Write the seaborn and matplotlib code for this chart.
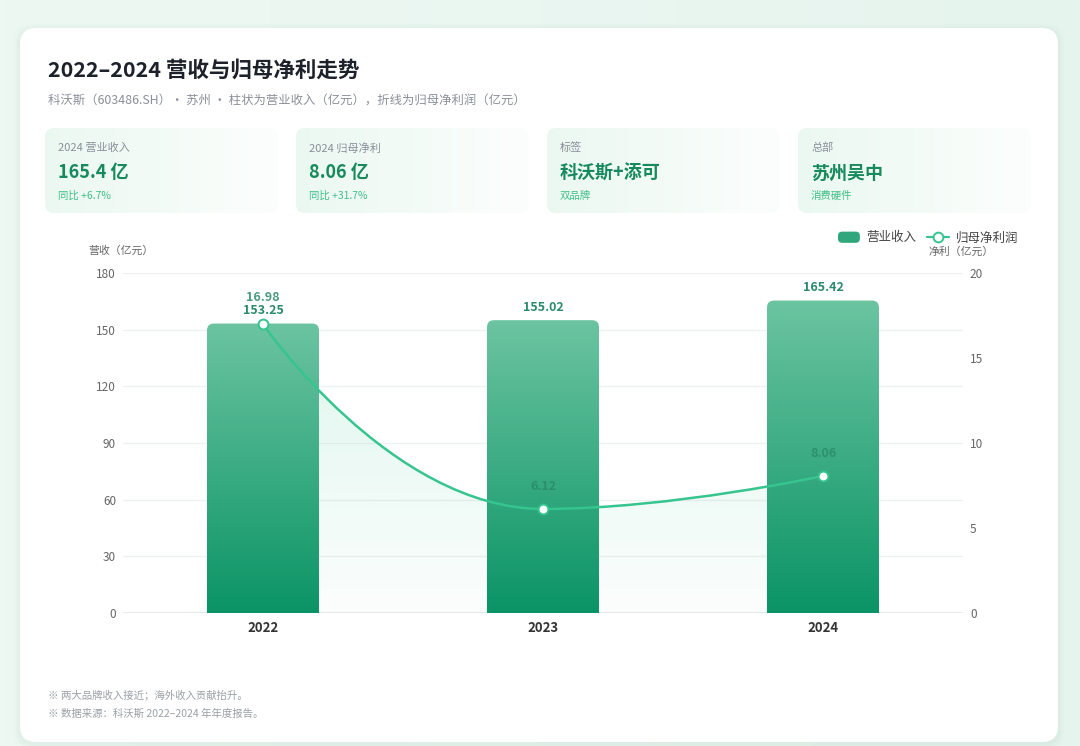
import numpy as np
import pandas as pd
import matplotlib
matplotlib.use("Agg")
import matplotlib.pyplot as plt
import seaborn as sns
from matplotlib.patches import FancyBboxPatch, PathPatch, Patch
from matplotlib.path import Path
from matplotlib.lines import Line2D
from matplotlib.legend_handler import HandlerPatch
from matplotlib.colors import to_rgb

# ---------------- data ----------------
years = ["2022", "2023", "2024"]
revenue = [153.25, 155.02, 165.42]
net_profit = [16.98, 6.12, 8.06]
rev_ticks = [0, 30, 60, 90, 120, 150, 180]
profit_ticks = [0, 5, 10, 15, 20]
kpi_labels = ["2024 营业收入", "2024 归母净利", "标签", "总部"]
kpi_values = ["165.4 亿", "8.06 亿", "科沃斯+添可", "苏州吴中"]
kpi_notes = ["同比 +6.7%", "同比 +31.7%", "双品牌", "消费硬件"]
title = "2022–2024 营收与归母净利走势"
subtitle = "科沃斯（603486.SH）· 苏州 · 柱状为营业收入（亿元），折线为归母净利润（亿元）"
footnotes = ["※ 两大品牌收入接近；海外收入贡献抬升。", "※ 数据来源：科沃斯 2022–2024 年年度报告。"]
legend_labels = ["营业收入", "归母净利润"]
left_axis_title = "营收（亿元）"
right_axis_title = "净利（亿元）"

# ---------------- style ----------------
sns.set_theme(style="white")
plt.rcParams['font.family'] = ['Noto Sans CJK SC', 'DejaVu Sans']

LINE_C = '#36c48f'
BAR_TOP = '#6cc4a1'
BAR_BOT = '#0b9466'

W, H = 1080, 746
fig = plt.figure(figsize=(W / 100, H / 100), dpi=100)
fig.patch.set_facecolor('#e8f5ef')

# background axes in pixel coordinates
bg = fig.add_axes([0, 0, 1, 1], zorder=0)
bg.axis('off')


def hgrad(c0, c1, n=256):
    a, b = np.array(to_rgb(c0)), np.array(to_rgb(c1))
    t = np.linspace(0, 1, n)[None, :, None]
    return a + (b - a) * t


def vgrad_rgba(c_top, c_bot, a_top=1.0, a_bot=1.0, n=256):
    a, b = np.array(to_rgb(c_top)), np.array(to_rgb(c_bot))
    t = np.linspace(0, 1, n)[:, None, None]
    rgb = a + (b - a) * t
    alpha = a_top + (a_bot - a_top) * t
    return np.concatenate([rgb, alpha], axis=2)


# page background gradient
bg.imshow(hgrad('#eef8f3', '#e6f4ee'), extent=[0, W, H, 0], aspect='auto', zorder=0)

# card shadow + white card
for k, a in [(6, 0.025), (4, 0.03), (2, 0.04)]:
    bg.add_patch(FancyBboxPatch((20 - k, 28 - k + 2), 1038 + 2 * k, 714 + 2 * k,
                                boxstyle="round,pad=0,rounding_size=18",
                                facecolor='#6aa88c', edgecolor='none', alpha=a, zorder=1))
bg.add_patch(FancyBboxPatch((20, 28), 1038, 714, boxstyle="round,pad=0,rounding_size=16",
                            facecolor='white', edgecolor='none', zorder=2))

# title & subtitle
bg.text(48, 70, title, fontsize=15.5, fontweight='bold', color='#1d2129', va='center', ha='left', zorder=5)
bg.text(48, 100, subtitle, fontsize=8.9, color='#8a8f99', va='center', ha='left', zorder=5)

# KPI cards
card_x0, card_step, card_w, card_y, card_h = 45, 251, 233, 128, 85
for i in range(len(kpi_labels)):
    cx = card_x0 + i * card_step
    box = FancyBboxPatch((cx, card_y), card_w, card_h, boxstyle="round,pad=0,rounding_size=9",
                         facecolor='none', edgecolor='none', zorder=3)
    bg.add_patch(box)
    im = bg.imshow(hgrad('#ebf8f1', '#fcfefd'), extent=[cx, cx + card_w, card_y + card_h, card_y],
                   aspect='auto', zorder=3)
    im.set_clip_path(box)
    bg.text(cx + 13, card_y + 20, kpi_labels[i], fontsize=8, color='#8a8f99', va='center', ha='left', zorder=5)
    bg.text(cx + 13, card_y + 45, kpi_values[i], fontsize=13, fontweight='bold', color='#178a5d',
            va='center', ha='left', zorder=5)
    bg.text(cx + 13, card_y + 68, kpi_notes[i], fontsize=7.5, color='#3fbf88', va='center', ha='left', zorder=5)

# footnotes
for j, t in enumerate(footnotes):
    bg.text(48, 695 + j * 19, t, fontsize=7.5, color='#9aa0a6', va='center', ha='left', zorder=5)

# axis titles
bg.text(88, 251, left_axis_title, fontsize=7.8, color='#666666', va='center', ha='left', zorder=5)
bg.text(928, 252, right_axis_title, fontsize=7.8, color='#666666', va='center', ha='left', zorder=5)

bg.set_xlim(0, W)
bg.set_ylim(H, 0)

# ---------------- main chart ----------------
L, R, T, B = 123, 963, 273, 613
ax = fig.add_axes([L / W, 1 - B / H, (R - L) / W, (B - T) / H], zorder=2)
ax.set_facecolor('none')

df = pd.DataFrame({'year': years, 'revenue': revenue})
sns.barplot(data=df, x='year', y='revenue', ax=ax, width=0.4, color=BAR_BOT, saturation=1, zorder=3)

ymax_l, ymax_r = rev_ticks[-1], profit_ticks[-1]
ax.set_xlim(-0.5, len(years) - 0.5)
ax.set_ylim(0, ymax_l)

ax2 = ax.twinx()
ax2.set_ylim(0, ymax_r)

# gradient, round-topped bars
px_x = (len(years)) / (R - L)          # data units per pixel (x)
px_y = ymax_l / (B - T)                # data units per pixel (y)
asp = px_y / px_x
rad = 7 * px_x
bar_grad = vgrad_rgba(BAR_TOP, BAR_BOT)
for p in ax.patches:
    x0, w, h = p.get_x(), p.get_width(), p.get_height()
    p.set_facecolor('none')
    p.set_edgecolor('none')
    clip = FancyBboxPatch((x0, -rad * asp), w, h + rad * asp,
                          boxstyle=f"round,pad=0,rounding_size={rad}", mutation_aspect=asp,
                          facecolor='none', edgecolor='none', transform=ax.transData, zorder=3)
    ax.add_patch(clip)
    im = ax.imshow(bar_grad, extent=[x0, x0 + w, 0, h], aspect='auto', zorder=3)
    im.set_clip_path(clip)

# value labels on bars
for i, v in enumerate(revenue):
    ax.annotate(f"{v:.2f}", (i, v), xytext=(0, 9.4), textcoords='offset points', ha='center', va='center',
                fontsize=9, fontweight='bold', color='#2b8a69', zorder=6)


# smooth line (ECharts-like monotone-clamped bezier through the data points)
def smooth_path(xs, ys, sx, sy, smooth=0.5):
    n = len(xs)
    cps = []
    for i in range(n):
        x, y = xs[i], ys[i]
        if i == 0 or i == n - 1:
            cps.append(((x, y), (x, y)))
            continue
        px_, py_ = xs[i - 1], ys[i - 1]
        nx_, ny_ = xs[i + 1], ys[i + 1]
        vx, vy = nx_ - px_, ny_ - py_
        d0 = np.hypot((x - px_) * sx, (y - py_) * sy)
        d1 = np.hypot((nx_ - x) * sx, (ny_ - y) * sy)
        r0 = d0 / (d0 + d1)
        c1x, c1y = x + vx * smooth * (1 - r0), y + vy * smooth * (1 - r0)
        c1x = min(max(c1x, min(nx_, x)), max(nx_, x))
        c1y = min(max(c1y, min(ny_, y)), max(ny_, y))
        ux, uy = c1x - x, c1y - y
        c0x, c0y = x - ux * d0 / d1, y - uy * d0 / d1
        c0x = min(max(c0x, min(px_, x)), max(px_, x))
        c0y = min(max(c0y, min(py_, y)), max(py_, y))
        ux, uy = x - c0x, y - c0y
        c1x, c1y = x + ux * d1 / d0, y + uy * d1 / d0
        cps.append(((c0x, c0y), (c1x, c1y)))
    verts = [(xs[0], ys[0])]
    codes = [Path.MOVETO]
    for i in range(1, n):
        verts += [cps[i - 1][1], cps[i][0], (xs[i], ys[i])]
        codes += [Path.CURVE4] * 3
    return verts, codes


xs = list(range(len(years)))
verts, codes = smooth_path(xs, net_profit, (R - L) / len(years), (B - T) / ymax_r)
line_path = Path(verts, codes)

# area under the line (drawn below the bars, on ax using ax2's scale)
area_path = Path(verts + [(xs[-1], 0), (xs[0], 0), (xs[0], net_profit[0])],
                 codes + [Path.LINETO, Path.LINETO, Path.CLOSEPOLY])
area_clip = PathPatch(area_path, transform=ax2.transData, facecolor='none', edgecolor='none', zorder=1)
ax.add_patch(area_clip)
area_img = ax.imshow(vgrad_rgba(LINE_C, LINE_C, 0.16, 0.02), aspect='auto', zorder=1,
                     extent=[xs[0], xs[-1], 0, max(net_profit) * ymax_l / ymax_r])
area_img.set_clip_path(area_clip)

ax2.add_patch(PathPatch(line_path, facecolor='none', edgecolor=LINE_C, lw=1.8, zorder=4))
sns.scatterplot(x=xs, y=net_profit, ax=ax2, s=50, color='white', edgecolor=LINE_C, linewidth=1.4, zorder=5)

line_label_offsets = [19.5, 16.5, 16.5]
for i, v in enumerate(net_profit):
    ax2.annotate(f"{v:.2f}", (i, v), xytext=(0, line_label_offsets[i]), textcoords='offset points',
                 ha='center', va='center', fontsize=9, fontweight='bold', color='#2b8a69', alpha=0.85, zorder=6)

# axes styling
ax.set_xlim(-0.5, len(years) - 0.5)
ax.set_ylim(0, ymax_l)
ax2.set_ylim(0, ymax_r)
ax.set_yticks(rev_ticks)
ax.set_yticklabels([str(t) for t in rev_ticks])
ax2.set_yticks(profit_ticks)
ax2.set_yticklabels([str(t) for t in profit_ticks])
ax.set_xlabel('')
ax.set_ylabel('')
ax2.set_xlabel('')
ax2.set_ylabel('')
ax.tick_params(axis='y', length=0, pad=5, labelsize=8.5, labelcolor='#666666')
ax.tick_params(axis='x', length=0, pad=5.5, labelsize=9.5, labelcolor='#333333')
for t in ax.get_xticklabels():
    t.set_fontweight('bold')
ax2.tick_params(axis='y', length=0, pad=5, labelsize=8.5, labelcolor='#666666')
ax.grid(axis='y', color='#eef0f2', lw=1)
ax.grid(axis='x', visible=False)
ax2.grid(False)
ax.set_axisbelow(True)
for a in (ax, ax2):
    for s in a.spines.values():
        s.set_visible(False)
ax.axhline(0, color='#e2e6e8', lw=1.2, zorder=2.5)

# legend
handles = [Patch(facecolor='#2fa67b', edgecolor='none'),
           Line2D([], [], color=LINE_C, lw=1.6, marker='o', markersize=7, markerfacecolor='white',
                  markeredgecolor=LINE_C, markeredgewidth=1.4)]
round_handler = HandlerPatch(patch_func=lambda legend, orig_handle, xdescent, ydescent, width, height, fontsize:
                             FancyBboxPatch((-xdescent, -ydescent), width, height,
                                            boxstyle="round,pad=0,rounding_size=3"))
leg = fig.legend(handles, legend_labels, loc='center right', bbox_to_anchor=(1018 / W, 1 - 238 / H),
                 ncol=2, frameon=False, fontsize=9, handlelength=1.75, handleheight=1.0,
                 handletextpad=0.5, columnspacing=0.9, borderpad=0, borderaxespad=0,
                 handler_map={Patch: round_handler})
for t in leg.get_texts():
    t.set_color('#444444')

fig.savefig('out.png', dpi=100, facecolor=fig.get_facecolor())
